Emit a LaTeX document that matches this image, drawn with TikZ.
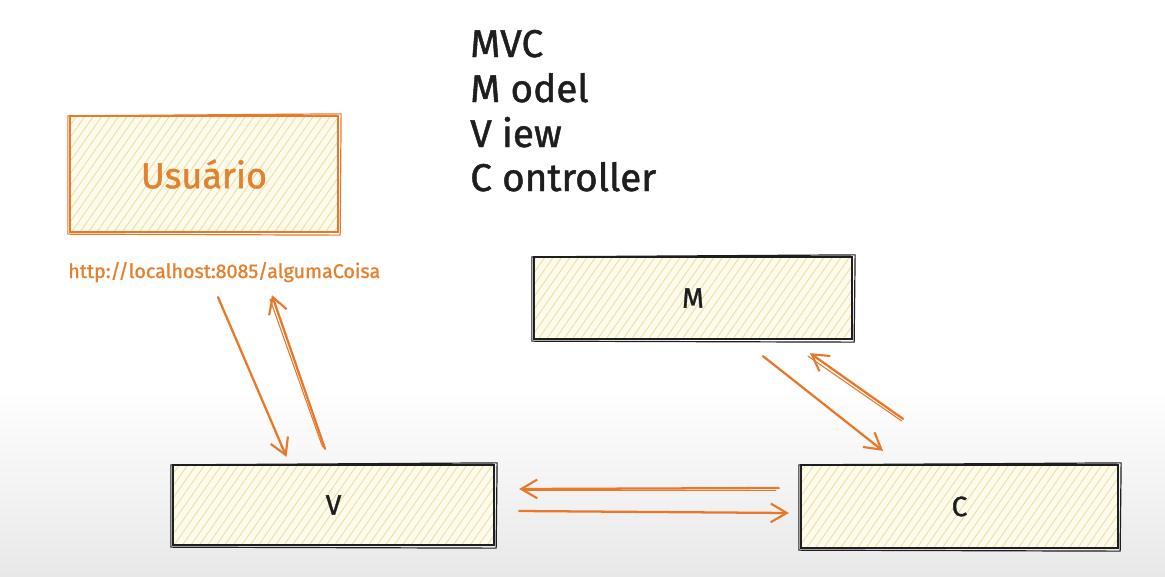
\documentclass[tikz,border=0pt]{standalone}
\usepackage{fontspec}
\setmainfont{Fira Sans}
\newfontfamily\hand[FakeBold=1.2]{Fira Sans}
\usetikzlibrary{arrows.meta,patterns.meta,calc}
\definecolor{org}{HTML}{E8782A}
\definecolor{orgtxt}{HTML}{E4812F}
\definecolor{hatch}{HTML}{EBDC92}
\definecolor{cream}{HTML}{FCFAEC}
\definecolor{ink}{HTML}{1E1E1E}
\newcommand\roughbox[2][ink]{%
  \draw[#1,line width=0.9pt] ([shift={(-1,1)}]#2.north west) -- ([shift={(2,-1)}]#2.north east)
    -- ([shift={(1,2)}]#2.south east) -- ([shift={(-1,1)}]#2.south west) -- cycle;}
\begin{document}
\begin{tikzpicture}[x=0.75pt,y=-0.75pt,
  box/.style={draw=ink, line width=1.7pt, rectangle, inner sep=0pt,
    preaction={fill=cream},
    preaction={pattern={Lines[angle=55,distance=5.2pt,line width=0.55pt]}, pattern color=hatch},
    font=\hand\fontsize{21}{23}\selectfont, text=ink},
  ubox/.style={box, draw=org, text=orgtxt, font=\hand\fontsize{27}{29}\selectfont},
  arr/.style={draw=org, line width=1.7pt, line cap=round,
    -{Straight Barb[length=12pt,width=14pt,line width=1.6pt]}},
  thin/.style={draw=org, line width=0.8pt, line cap=round},
  head/.style={anchor=base west, font=\hand\fontsize{29}{31}\selectfont, text=ink, inner sep=0pt}]
\useasboundingbox (0,0) rectangle (1165,576);
\fill[white] (0,0) rectangle (1165,576);
\shade[top color=white, bottom color=black!9] (0,390) rectangle (1165,576);

% title text
\node[head] (t1) at (470,57) {MVC};
\node[head] (t2) at (470,102) {M odel};
\node[head] (t3) at (470,147) {V iew};
\node[head] (t4) at (470,191) {C ontroller};

% boxes
\node[ubox, minimum width=201pt, minimum height=87pt] (u) at (204,174) {Usuário};
\roughbox[org]{u}
\node[anchor=base west, inner sep=0pt, text=orgtxt, font=\hand\fontsize{14.8}{16}\selectfont] (url) at (68,278) {http://localhost:8085/algumaCoisa};

\node[box, minimum width=238.5pt, minimum height=61.5pt] (m) at (693,298) {M};
\roughbox{m}
\node[box, minimum width=240.75pt, minimum height=60pt] (v) at (333.5,505) {V};
\roughbox{v}
\node[box, minimum width=237.75pt, minimum height=62.25pt] (c) at (959.5,506.5) {C};
\roughbox{c}

% arrows Usuario <-> V
\draw[arr] ($(u.south)+(14,64)$) -- ($(v.north)+(-47,-7)$);
\draw[arr] ($(v.north)+(-8.5,-15)$) -- ($(u.south)+(68,62)$);
\draw[thin] ($(v.north)+(-11,-17)$) -- ($(u.south)+(66,66)$);

% arrows M <-> C
\draw[arr] ($(m.south)+(70,16)$) -- ($(c.north)+(-76.5,-13)$);
\draw[arr] ($(c.north)+(-56.5,-45)$) -- ($(m.south)+(117,13)$);
\draw[thin] ($(c.north)+(-58,-43)$) -- ($(m.south)+(115,16)$);

% arrows V <-> C
\draw[arr] ($(c.west)+(-21,-18.5)$) -- ($(v.east)+(24,-16)$);
\draw[thin] ($(c.west)+(-24,-16)$) -- ($(v.east)+(30,-14.5)$);
\draw[arr] ($(v.east)+(24,6)$) -- ($(c.west)+(-11,6.5)$);
\end{tikzpicture}
\end{document}
